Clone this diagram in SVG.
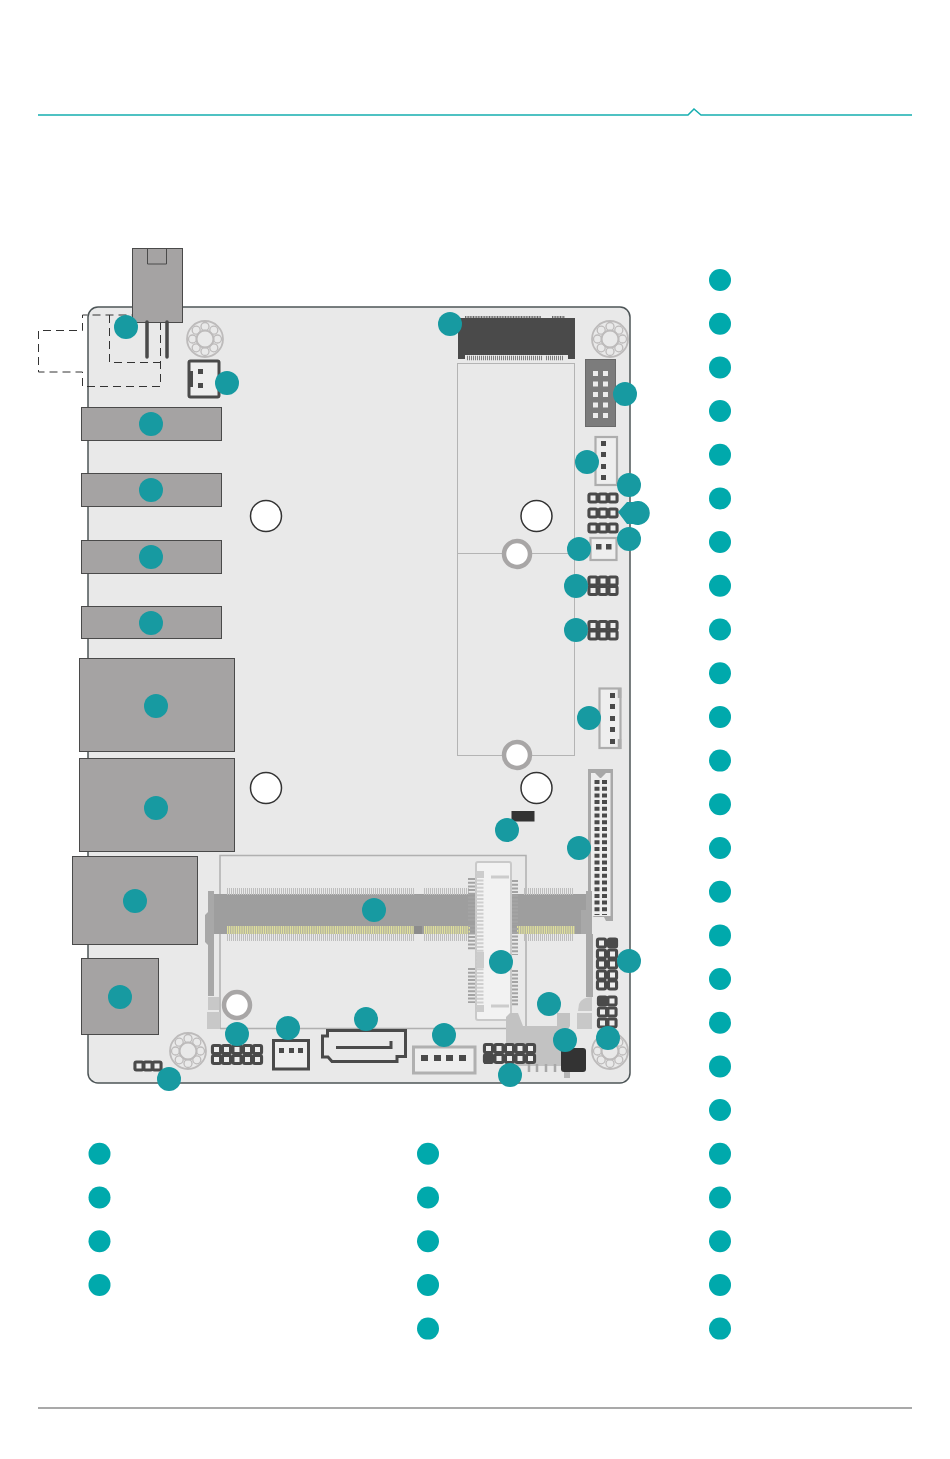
<svg xmlns="http://www.w3.org/2000/svg" width="950" height="1459" viewBox="0 0 950 1459">
<style>
.g{fill:#a5a3a3;stroke:#4a4a4a;stroke-width:1}
.m{fill:#179aa1}
.l{fill:#00a9ac}
.h{fill:#fff;stroke:#333;stroke-width:1.5}
.r{fill:#fff;stroke:#a8a6a6;stroke-width:4.5}
.s{fill:none;stroke:#b4b4b4;stroke-width:1}
.w{fill:#eee;stroke:#adadad;stroke-width:2.2}
.pin{fill:#4a4a4a}
.dash{fill:none;stroke:#333;stroke-width:1;stroke-dasharray:8 5}
.tk{fill:none;stroke:#bdbdbd;stroke-width:7;stroke-dasharray:1 1}
.tv{fill:none;stroke:#a4a4a4;stroke-width:7;stroke-dasharray:2 1.700}
.ti{fill:none;stroke:#cfcfcf;stroke-width:7;stroke-dasharray:2 1.700}
.au{fill:none;stroke:#dfdf9d;stroke-width:8;stroke-dasharray:1.2 .6}
.lt{fill:#c8c8c8}
</style>
<defs>
<g id="bearing" fill="none" stroke="#bdbbbb" stroke-width="1.3">
<circle r="18" stroke-width="1.800"/><circle r="8.500" stroke-width="2"/>
<circle cx="0" cy="-12.500" r="4"/><circle cx="8.800" cy="-8.800" r="4"/><circle cx="12.500" cy="0" r="4"/><circle cx="8.800" cy="8.800" r="4"/><circle cx="0" cy="12.500" r="4"/><circle cx="-8.800" cy="8.800" r="4"/><circle cx="-12.500" cy="0" r="4"/><circle cx="-8.800" cy="-8.800" r="4"/>
</g>
<g id="cell"><rect x="-5.600" y="-5.600" width="11.200" height="11.200" rx="3" fill="#4a4a4a"/><rect x="-2.500" y="-2.500" width="5" height="5" fill="#eee"/></g>
</defs>

<rect width="950" height="1459" fill="#fff"/>
<g id="header-rule"><path d="M38 115H688L694 109L701 115H912" fill="none" stroke="#16aeb0" stroke-width="1.5"/></g>
<g id="footer-rule"><path d="M38 1408H912" fill="none" stroke="#8c8c8c" stroke-width="1.5"/></g>

<g id="board"><rect x="88" y="307" width="542" height="776" rx="10" fill="#e9e9e9" stroke="#4d5557" stroke-width="1.500"/></g>

<g id="mounting">
<circle class="h" cx="266" cy="516" r="15.500"/><circle class="h" cx="536.500" cy="516" r="15.500"/>
<circle class="h" cx="266" cy="788" r="15.500"/><circle class="h" cx="536.500" cy="788" r="15.500"/>
<use href="#bearing" x="205" y="339"/><use href="#bearing" x="610" y="339"/><use href="#bearing" x="188" y="1051"/><use href="#bearing" x="610" y="1051"/>
</g>

<g id="m2-key-e">
<rect x="457.500" y="363.500" width="117" height="392" class="s"/><path d="M457.500 553.500H574.500" class="s"/>
<circle class="r" cx="517" cy="554" r="13"/><circle class="r" cx="517" cy="755" r="13"/>
<path d="M458 318H575V355H458Z" fill="#4a4a4a"/><rect x="458" y="355" width="7" height="4" fill="#4a4a4a"/><rect x="568" y="355" width="7" height="4" fill="#4a4a4a"/>
<path d="M465 317H541M552 317H565" stroke="#666" stroke-width="2" stroke-dasharray="1 .6" fill="none"/>
<path d="M467 358H542M546 358H563" stroke="#7c7c7c" stroke-width="4.500" stroke-dasharray="1 1" fill="none"/>
</g>

<g id="dc-jack">
<path class="dash" d="M160.500 322V386.500H82.500V372H38.500V330.500H82.500V315H132M109.500 315V362.500H160"/>
<rect class="g" x="132.500" y="248.500" width="50" height="74"/><path d="M147.500 249V264H166.500V249" fill="none" stroke="#4a4a4a"/>
<path d="M147 322V357M167 322V357" stroke="#4a4a4a" stroke-width="3.500" stroke-linecap="round" fill="none"/>
</g>

<g id="power-conn"><rect x="189" y="361" width="30" height="36" rx="1.500" fill="#eee" stroke="#4a4a4a" stroke-width="3"/><rect x="189" y="371" width="4" height="16" fill="#4a4a4a"/><rect x="198" y="369" width="5" height="5" class="pin"/><rect x="198" y="383" width="5" height="5" class="pin"/></g>

<g id="ports-left">
<rect class="g" x="81.500" y="407.500" width="140" height="33"/>
<rect class="g" x="81.500" y="473.500" width="140" height="33"/>
<rect class="g" x="81.500" y="540.500" width="140" height="33"/>
<rect class="g" x="81.500" y="606.500" width="140" height="32"/>
<rect class="g" x="79.500" y="658.500" width="155" height="93"/>
<rect class="g" x="79.500" y="758.500" width="155" height="93"/>
<rect class="g" x="72.500" y="856.500" width="125" height="88"/>
<rect class="g" x="81.500" y="958.500" width="77" height="76"/>
</g>

<g id="header-gray"><rect x="585.500" y="359.500" width="30" height="67" fill="#7c7c7c" stroke="#6a6a6a"/>
<g fill="#eee"><rect x="593" y="371" width="5" height="5"/><rect x="603" y="371" width="5" height="5"/><rect x="593" y="381.500" width="5" height="5"/><rect x="603" y="381.500" width="5" height="5"/><rect x="593" y="392" width="5" height="5"/><rect x="603" y="392" width="5" height="5"/><rect x="593" y="402.500" width="5" height="5"/><rect x="603" y="402.500" width="5" height="5"/><rect x="593" y="413" width="5" height="5"/><rect x="603" y="413" width="5" height="5"/></g></g>

<g id="conn-4pin"><rect class="w" x="595.500" y="437" width="21.500" height="48"/>
<g class="pin"><rect x="601" y="441" width="5" height="5"/><rect x="601" y="452" width="5" height="5"/><rect x="601" y="464" width="5" height="5"/><rect x="601" y="475" width="5" height="5"/></g></g>

<g id="hdr-3x3">
<use href="#cell" x="593" y="498"/><use href="#cell" x="603" y="498"/><use href="#cell" x="613" y="498"/>
<use href="#cell" x="593" y="513"/><use href="#cell" x="603" y="513"/><use href="#cell" x="613" y="513"/>
<use href="#cell" x="593" y="528"/><use href="#cell" x="603" y="528"/><use href="#cell" x="613" y="528"/>
</g>

<g id="conn-2pin"><rect class="w" x="590.500" y="538" width="26" height="22"/><rect x="596" y="544" width="5.500" height="5.500" class="pin"/><rect x="606" y="544" width="5.500" height="5.500" class="pin"/></g>

<g id="hdr-a">
<use href="#cell" x="593" y="581"/><use href="#cell" x="603" y="581"/><use href="#cell" x="613" y="581"/><use href="#cell" x="593" y="590.500"/><use href="#cell" x="603" y="590.500"/><use href="#cell" x="613" y="590.500"/>
</g>
<g id="hdr-b">
<use href="#cell" x="593" y="625.500"/><use href="#cell" x="603" y="625.500"/><use href="#cell" x="613" y="625.500"/><use href="#cell" x="593" y="635"/><use href="#cell" x="603" y="635"/><use href="#cell" x="613" y="635"/>
</g>

<g id="conn-5pin"><rect class="w" x="599.500" y="688.500" width="21" height="59.500"/><path d="M619.500 688V698M619.500 739V749" stroke="#adadad" stroke-width="3.500" fill="none"/>
<g class="pin"><rect x="610" y="693" width="5" height="5"/><rect x="610" y="704" width="5" height="5"/><rect x="610" y="716" width="5" height="5"/><rect x="610" y="727" width="5" height="5"/><rect x="610" y="739" width="5" height="5"/></g></g>

<g id="lvds"><path d="M588 769H613V921H606L604 917H594L588 913Z" fill="#a8a8a8"/><path d="M591 773H595L600 778H601L606 773H610.500V916H591Z" fill="#eee"/>
<path d="M597 780V915M604.500 780V915" stroke="#4a4a4a" stroke-width="5" stroke-dasharray="4 2.700" fill="none"/></g>

<g id="ic-black"><rect x="511.500" y="811" width="23" height="10.500" fill="#333"/></g>

<g id="so-dimm">
<path d="M220 1028.500V855.500H526V1028" fill="none" stroke="#b0b0b0" stroke-width="1.500"/>
<path d="M220 1028.500H526" fill="none" stroke="#b0b0b0" stroke-width="1.500"/>
<rect x="214" y="894" width="374" height="40" fill="#9e9e9e"/>
<path d="M227 891.500H414M424 891.500H470M524 891.500H573M227 937.500H414M424 937.500H470M524 937.500H573" class="tk"/>
<path d="M227 930H414M424 930H470M517 930H575" class="au"/>
<rect x="414" y="926" width="8" height="8" fill="#8c8c8c"/>
<path d="M208 891H214V996H208ZM205 915L208 912V945L205 942Z" fill="#a8a8a8"/><path d="M581 910H586V891H592V934H593V997H586V934H581Z" fill="#a8a8a8"/>
<path d="M208 997H219V1010H208ZM207 1012H220V1029H207ZM579 1004Q582 997 592 997V1011H578ZM577 1013H592V1029H577Z" class="lt"/>
<circle class="r" cx="237" cy="1005" r="13"/>
</g>

<g id="m2-key-b">
<path class="tv" d="M471.500 878V922M471.500 925V950M471.500 968V1003"/>
<path class="tv" d="M514.500 880V925M514.500 928V955M514.500 970V1006"/>
<rect x="476" y="862" width="35" height="158" rx="2" fill="#f2f2f2" stroke="#c9c9c9" stroke-width="2"/>
<path class="ti" d="M480 872V1012"/>
<path d="M477 871H484V878H477ZM477 952H484V968H477ZM477 1005H484V1012H477Z" fill="#ccc"/><path d="M491 877H509M491 1006H509" stroke="#ccc" stroke-width="3"/>
</g>

<g id="conn-sata-pwr"><rect x="273.500" y="1040.500" width="35" height="28.500" fill="#eee" stroke="#4a4a4a" stroke-width="3"/><g class="pin"><rect x="279" y="1048" width="5" height="5"/><rect x="289" y="1048" width="5" height="5"/><rect x="298" y="1048" width="5" height="5"/></g></g>

<g id="sata"><path d="M327.500 1030.500H405.500V1056.500H397V1061.500H332L328 1057H322.500V1036H327.500Z" fill="none" stroke="#4a4a4a" stroke-width="3"/><path d="M336 1047.500H391V1041" fill="none" stroke="#4a4a4a" stroke-width="3"/></g>

<g id="conn-bottom-4"><rect x="413.500" y="1047" width="61.500" height="26" fill="#eee" stroke="#b0b0b0" stroke-width="3"/><g class="pin"><rect x="421" y="1055" width="7" height="6"/><rect x="434" y="1055" width="7" height="6"/><rect x="446" y="1055" width="7" height="6"/><rect x="459" y="1055" width="7" height="6"/></g></g>

<g id="hdr-left-5x2">
<use href="#cell" x="216.500" y="1049.500"/><use href="#cell" x="226.500" y="1049.500"/><use href="#cell" x="237" y="1049.500"/><use href="#cell" x="247.500" y="1049.500"/><use href="#cell" x="257.500" y="1049.500"/>
<use href="#cell" x="216.500" y="1059.500"/><use href="#cell" x="226.500" y="1059.500"/><use href="#cell" x="237" y="1059.500"/><use href="#cell" x="247.500" y="1059.500"/><use href="#cell" x="257.500" y="1059.500"/>
</g>

<g id="hdr-3x1"><use href="#cell" x="139" y="1066"/><use href="#cell" x="148" y="1066"/><use href="#cell" x="157" y="1066"/></g>

<g id="usb-side">
<path d="M506 1026V1017L510 1013H518L523 1026H557V1013H570V1026L566 1033V1066H506Z" fill="#c2c2c2"/>
<path d="M529 1064V1072M537 1064V1072M546 1064V1072M555 1064V1072" stroke="#a8a8a8" stroke-width="2.500" fill="none"/>
<rect x="564" y="1068" width="6" height="10" fill="#b5b5b5"/>
<rect x="561" y="1048" width="25" height="24" rx="3" fill="#333"/>
</g>

<g id="hdr-center-5x2">
<use href="#cell" x="488.500" y="1048.500"/><use href="#cell" x="499" y="1048.500"/><use href="#cell" x="509.500" y="1048.500"/><use href="#cell" x="520" y="1048.500"/><use href="#cell" x="530.500" y="1048.500"/>
<use href="#cell" x="488.500" y="1058.500"/><use href="#cell" x="499" y="1058.500"/><use href="#cell" x="509.500" y="1058.500"/><use href="#cell" x="520" y="1058.500"/><use href="#cell" x="530.500" y="1058.500"/>
<rect x="484" y="1054" width="8" height="10" fill="#4a4a4a"/>
</g>

<g id="hdr-right-5x2">
<use href="#cell" x="601.500" y="943"/><use href="#cell" x="612.500" y="943"/>
<use href="#cell" x="601.500" y="954"/><use href="#cell" x="612.500" y="954"/>
<use href="#cell" x="601.500" y="964"/><use href="#cell" x="612.500" y="964"/>
<use href="#cell" x="601.500" y="975"/><use href="#cell" x="612.500" y="975"/>
<use href="#cell" x="601.500" y="985"/><use href="#cell" x="612.500" y="985"/>
<rect x="608" y="938" width="10" height="10" rx="2" fill="#4a4a4a"/>
</g>
<g id="hdr-right-3x2">
<use href="#cell" x="602.500" y="1001"/><use href="#cell" x="612" y="1001"/>
<use href="#cell" x="602.500" y="1012"/><use href="#cell" x="612" y="1012"/>
<use href="#cell" x="602.500" y="1023"/><use href="#cell" x="612" y="1023"/>
<rect x="597.500" y="996" width="10" height="10" rx="2" fill="#4a4a4a"/>
</g>

<g id="board-markers">
<circle class="m" cx="126" cy="327" r="12"/><circle class="m" cx="450" cy="324" r="12"/><circle class="m" cx="227" cy="383" r="12"/><circle class="m" cx="625" cy="394" r="12"/><circle class="m" cx="151" cy="424" r="12"/><circle class="m" cx="587" cy="462" r="12"/><circle class="m" cx="151" cy="490" r="12"/><circle class="m" cx="629" cy="485" r="12"/>
<path class="m" d="M618 512L627 502H633A12 12 0 1 1 633 524H627Z"/>
<circle class="m" cx="629" cy="539" r="12"/><circle class="m" cx="579" cy="549" r="12"/><circle class="m" cx="151" cy="557" r="12"/><circle class="m" cx="576" cy="586" r="12"/><circle class="m" cx="576" cy="630" r="12"/><circle class="m" cx="151" cy="623" r="12"/><circle class="m" cx="589" cy="718" r="12"/><circle class="m" cx="156" cy="706" r="12"/><circle class="m" cx="156" cy="808" r="12"/><circle class="m" cx="507" cy="830" r="12"/><circle class="m" cx="579" cy="848" r="12"/><circle class="m" cx="135" cy="901" r="12"/><circle class="m" cx="374" cy="910" r="12"/><circle class="m" cx="629" cy="961" r="12"/><circle class="m" cx="501" cy="962" r="12"/><circle class="m" cx="120" cy="997" r="12"/><circle class="m" cx="549" cy="1004" r="12"/><circle class="m" cx="237" cy="1034" r="12"/><circle class="m" cx="288" cy="1028" r="12"/><circle class="m" cx="366" cy="1019" r="12"/><circle class="m" cx="444" cy="1035" r="12"/><circle class="m" cx="565" cy="1040" r="12"/><circle class="m" cx="608" cy="1038" r="12"/><circle class="m" cx="510" cy="1075" r="12"/><circle class="m" cx="169" cy="1079" r="12"/>
</g>

<g id="legend-right">
<circle class="l" cx="720" cy="280" r="11"/><circle class="l" cx="720" cy="323.700" r="11"/><circle class="l" cx="720" cy="367.400" r="11"/><circle class="l" cx="720" cy="411" r="11"/><circle class="l" cx="720" cy="454.700" r="11"/><circle class="l" cx="720" cy="498.400" r="11"/><circle class="l" cx="720" cy="542" r="11"/><circle class="l" cx="720" cy="585.800" r="11"/><circle class="l" cx="720" cy="629.500" r="11"/><circle class="l" cx="720" cy="673.200" r="11"/><circle class="l" cx="720" cy="716.900" r="11"/><circle class="l" cx="720" cy="760.600" r="11"/><circle class="l" cx="720" cy="804.300" r="11"/><circle class="l" cx="720" cy="848" r="11"/><circle class="l" cx="720" cy="891.700" r="11"/><circle class="l" cx="720" cy="935.400" r="11"/><circle class="l" cx="720" cy="979" r="11"/><circle class="l" cx="720" cy="1022.700" r="11"/><circle class="l" cx="720" cy="1066.400" r="11"/><circle class="l" cx="720" cy="1110" r="11"/><circle class="l" cx="720" cy="1153.800" r="11"/><circle class="l" cx="720" cy="1197.500" r="11"/><circle class="l" cx="720" cy="1241.200" r="11"/><circle class="l" cx="720" cy="1284.900" r="11"/><circle class="l" cx="720" cy="1328.600" r="11"/>
</g>
<g id="legend-left"><circle class="l" cx="99.500" cy="1153.800" r="11"/><circle class="l" cx="99.500" cy="1197.500" r="11"/><circle class="l" cx="99.500" cy="1241.200" r="11"/><circle class="l" cx="99.500" cy="1284.900" r="11"/></g>
<g id="legend-mid"><circle class="l" cx="428" cy="1153.800" r="11"/><circle class="l" cx="428" cy="1197.500" r="11"/><circle class="l" cx="428" cy="1241.200" r="11"/><circle class="l" cx="428" cy="1284.900" r="11"/><circle class="l" cx="428" cy="1328.600" r="11"/></g>
</svg>
